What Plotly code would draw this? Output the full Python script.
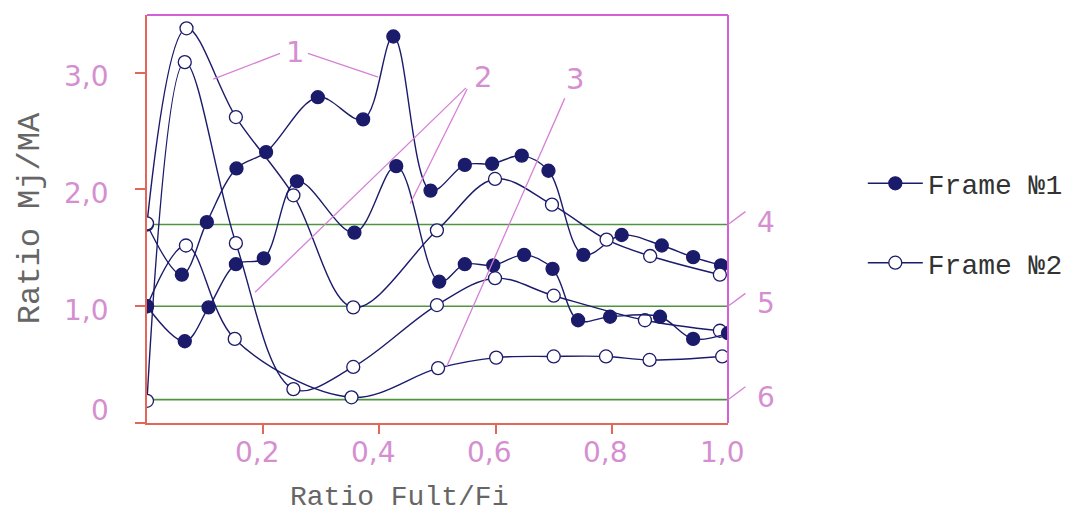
import plotly.graph_objects as go

# ---------------- data ----------------
# Frame No1 (filled markers)
x_f1 = [0.0, 0.06, 0.103, 0.154, 0.205, 0.294, 0.372, 0.424, 0.488, 0.547, 0.594, 0.645, 0.691, 0.751, 0.817, 0.886, 0.940, 0.988]
y_f1 = [1.70, 1.27, 1.72, 2.18, 2.32, 2.79, 2.60, 3.31, 1.99, 2.21, 2.22, 2.29, 2.16, 1.44, 1.61, 1.52, 1.42, 1.35]
x_f2 = [0.0, 0.065, 0.106, 0.153, 0.201, 0.258, 0.357, 0.429, 0.503, 0.547, 0.596, 0.649, 0.698, 0.742, 0.797, 0.883, 0.940, 1.0]
y_f2 = [1.0, 0.70, 0.99, 1.36, 1.41, 2.07, 1.63, 2.20, 1.21, 1.36, 1.35, 1.44, 1.32, 0.88, 0.91, 0.91, 0.72, 0.77]
# Frame No2 (open markers)
x_o1 = [0.0, 0.068, 0.153, 0.252, 0.355, 0.499, 0.599, 0.697, 0.791, 0.866, 0.986]
y_o1 = [1.71, 3.38, 2.62, 1.95, 0.99, 1.65, 2.09, 1.87, 1.57, 1.43, 1.27]
x_o2 = [0.0, 0.065, 0.153, 0.252, 0.355, 0.499, 0.599, 0.700, 0.857, 0.986]
y_o2 = [0.19, 3.09, 1.54, 0.29, 0.48, 1.01, 1.24, 1.09, 0.88, 0.79]
x_o3 = [0.0, 0.067, 0.151, 0.352, 0.501, 0.601, 0.700, 0.790, 0.865, 0.990]
y_o3 = [1.0, 1.52, 0.72, 0.22, 0.47, 0.56, 0.57, 0.57, 0.54, 0.57]

# reference levels (lines 4, 5, 6)
ref_levels = [1.7, 1.0, 0.2]
ref_labels = ["4", "5", "6"]

x_ticks = [0.2, 0.4, 0.6, 0.8, 1.0]
x_ticktext = ["0,2", "0,4", "0,6", "0,8", "1,0"]
y_ticks = [0, 1, 2, 3]
y_ticktext = ["0", "1,0", "2,0", "3,0"]

# callout labels: (text, label pos, list of leader segments)
callouts = [
    ("1", (0.255, 3.18), [((0.229, 3.165), (0.114, 2.945)), ((0.277, 3.165), (0.398, 2.962))]),
    ("2", (0.578, 2.96), [((0.549, 2.87), (0.186, 1.12)), ((0.551, 2.86), (0.453, 1.88))]),
    ("3", (0.737, 2.95), [((0.719, 2.78), (0.516, 0.486))]),
]

# ---------------- styling ----------------
NAVY = "#1b1b6b"
PINK = "#d58fd0"
LEAD = "#d77fd7"
GREEN = "#4f9440"
AXRED = "#e2665a"
BORDER = "#d65fd8"
FONT = "Liberation Mono"
NUMFONT = "DejaVu Sans"

fig = go.Figure()

def curve(x, y, filled, name=None, show=False, rank=None):
    fig.add_trace(go.Scatter(
        x=x, y=y, mode="lines+markers",
        line=dict(color=NAVY, width=1.4, shape="spline", smoothing=1.0),
        marker=dict(size=13, symbol="circle",
                    color=NAVY if filled else "white",
                    line=dict(color=NAVY, width=1.3)),
        name=name, showlegend=show, legendgroup=name or "g%d" % len(fig.data),
        legendrank=rank if rank else 1000,
        hoverinfo="skip"))

# reference lines
for lv in ref_levels:
    fig.add_trace(go.Scatter(x=[0, 1], y=[lv, lv], mode="lines",
                             line=dict(color=GREEN, width=1.6),
                             showlegend=False, hoverinfo="skip"))

curve(x_f1, y_f1, True)
curve(x_o1, y_o1, False, name="Frame \u21162", show=True, rank=2)
curve(x_o2, y_o2, False)
curve(x_o3, y_o3, False)
curve(x_f2, y_f2, True, name="Frame \u21161", show=True, rank=1)

Y_TOP = 3.494
fig.update_layout(
    width=1092, height=514,
    margin=dict(l=139, r=372, t=7, b=99),
    paper_bgcolor="white", plot_bgcolor="white",
    xaxis=dict(range=[0, 1], showgrid=False, zeroline=False,
               showline=True, linecolor=AXRED, linewidth=2,
               ticks="outside", ticklen=9, tickwidth=2, tickcolor=AXRED,
               tickvals=x_ticks[:-1], showticklabels=False),
    yaxis=dict(range=[0, Y_TOP], showgrid=False, zeroline=False,
               showline=True, linecolor=AXRED, linewidth=2,
               ticks="outside", ticklen=10, tickwidth=2, tickcolor=AXRED,
               tickvals=y_ticks, showticklabels=False),
    showlegend=True,
    legend=dict(x=1.232, xanchor="left", y=0.648, yanchor="top",
                font=dict(family=FONT, size=28, color="#333333"),
                tracegroupgap=40, bgcolor="rgba(0,0,0,0)",
                itemwidth=55),
)

# top and right borders (magenta)
fig.add_shape(type="line", xref="paper", yref="paper", x0=0, x1=1, y0=1, y1=1,
              line=dict(color=BORDER, width=2))
fig.add_shape(type="line", xref="paper", yref="paper", x0=1, x1=1, y0=0, y1=1,
              line=dict(color=BORDER, width=2))

# tick labels
for v, t in zip(x_ticks, x_ticktext):
    fig.add_annotation(x=v, y=-0.072, xref="x", yref="paper", text=t, showarrow=False,
                       xshift=-6, font=dict(family=NUMFONT, size=28, color=PINK),
                       xanchor="center", yanchor="middle")
for v, t in zip(y_ticks, y_ticktext):
    fig.add_annotation(x=-0.062, y=v, xref="paper", yref="y", text=t, showarrow=False,
                       yshift=13 if v == 0 else -4,
                       font=dict(family=NUMFONT, size=28, color=PINK),
                       xanchor="right", yanchor="middle")

# axis titles
fig.add_annotation(x=(399 - 147) / 581, y=(422.7 - 497) / 407.7, xref="paper", yref="paper",
                   text="Ratio Fult/Fi", showarrow=False,
                   xanchor="center", yanchor="middle",
                   font=dict(family=FONT, size=28, color="#666666"))
fig.add_annotation(x=(30 - 147) / 581, y=(422.7 - 218) / 407.7, xref="paper", yref="paper",
                   text="Ratio Mj/MA", showarrow=False, textangle=-90,
                   xanchor="center", yanchor="middle",
                   font=dict(family=FONT, size=32, color="#666666"))

# callouts with leader lines
for txt, (lx, ly), leads in callouts:
    fig.add_annotation(x=lx, y=ly, xref="x", yref="y", text=txt, showarrow=False,
                       font=dict(family=NUMFONT, size=29, color=PINK))
    for (x0, y0), (x1, y1) in leads:
        fig.add_shape(type="line", xref="x", yref="y", x0=x0, y0=y0, x1=x1, y1=y1,
                      line=dict(color=LEAD, width=1.3))

# labels 4,5,6 with little diagonal stubs outside the right border
for lv, t in zip(ref_levels, ref_labels):
    fig.add_shape(type="line", xref="paper", yref="y", x0=1.0, x1=1.03,
                  y0=lv, y1=lv + 0.11, line=dict(color=LEAD, width=1.3))
    fig.add_annotation(x=1.065, y=lv + 0.02, xref="paper", yref="y", text=t, showarrow=False,
                       font=dict(family=NUMFONT, size=28, color=PINK),
                       xanchor="center", yanchor="middle")

fig.write_html("out.html")
